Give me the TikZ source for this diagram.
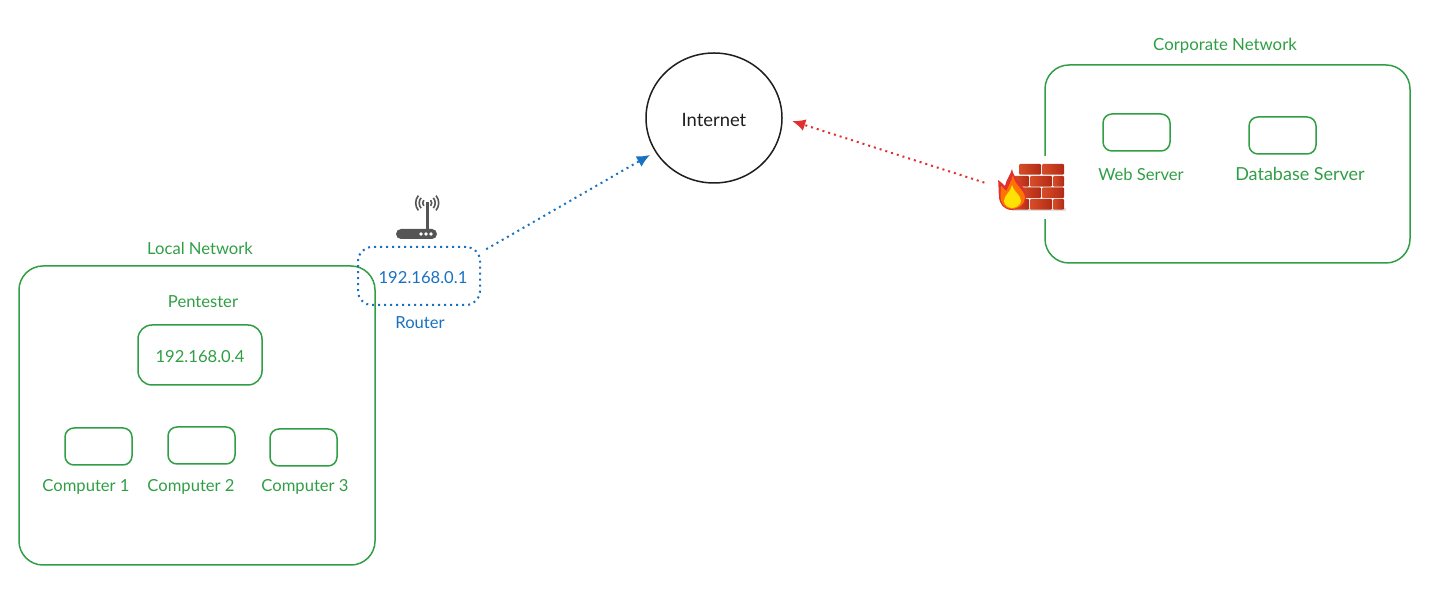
\documentclass[tikz,border=0pt]{standalone}
\usepackage{fontspec}
\setmainfont{Lato}
\usetikzlibrary{arrows.meta,positioning,shapes.geometric}
\definecolor{netgreen}{RGB}{47,158,68}
\definecolor{netblue}{RGB}{25,113,194}
\definecolor{netred}{RGB}{224,49,49}
\definecolor{inkblack}{RGB}{30,30,30}
\definecolor{icongray}{RGB}{85,85,85}
\definecolor{brickdark}{RGB}{178,42,22}
\definecolor{bricklight}{RGB}{214,78,40}
\tikzset{
  lbl/.style={inner sep=0pt,font=\fontsize{8.3}{10}\selectfont},
  greenlbl/.style={lbl,netgreen},
  netbox/.style={draw=netgreen,line width=0.75pt,rounded corners=12pt,inner sep=0pt},
  hostbox/.style={draw=netgreen,line width=0.75pt,rounded corners=4.5pt,minimum width=33.5pt,minimum height=18.5pt,inner sep=0pt},
  brick/.style={left color=bricklight,right color=brickdark,draw=none,rounded corners=0.5pt},
}
\begin{document}
\begin{tikzpicture}[x=0.5pt,y=-0.5pt]
    \useasboundingbox (0,0) rectangle (1435,592);
    % networks
    \node[netbox,minimum width=178pt,minimum height=149.5pt] (localnet) at (197,415.5) {};
    \node[netbox,minimum width=182.5pt,minimum height=99pt] (corpnet) at (1227.5,164) {};
    \node[greenlbl] (localtitle) at (200,248) {Local Network};
    \node[greenlbl,font=\fontsize{8.4}{10}\selectfont] (corptitle) at (1225,45.5) {Corporate Network};
    % local hosts
    \node[greenlbl] (pentitle) at (203,302) {Pentester};
    \node[hostbox,minimum width=62pt,minimum height=30pt,rounded corners=7pt] (pentester) at (200,355) {};
    \node[greenlbl] (penip) at (200,356.5) {192.168.0.4};
    \foreach \nm/\x/\y/\lx in {1/98.5/446.5/86,2/201.5/445.5/191,3/303.5/447.5/305}{
      \node[hostbox] (comp\nm) at (\x,\y) {};
      \node[greenlbl] (complbl\nm) at (\lx,486.5) {Computer \nm};
    }
    % corporate hosts
    \node[hostbox] (web) at (1136.5,132.5) {};
    \node[greenlbl] (weblbl) at (1141,174) {Web Server};
    \node[hostbox] (db) at (1282.5,135.5) {};
    \node[greenlbl,font=\fontsize{9}{10}\selectfont] (dblbl) at (1300,174) {Database Server};
    % internet and router
    \node[draw=inkblack,line width=0.75pt,ellipse,minimum width=68pt,minimum height=65pt,inner sep=0pt] (internet) at (714,118) {};
    \node[lbl,inkblack,font=\fontsize{9.2}{10}\selectfont] (inetlbl) at (714,120) {Internet};
    \node[draw=netblue,line width=1pt,dotted,rounded corners=7pt,minimum width=61pt,minimum height=29pt,inner sep=0pt] (router) at (419,276) {};
    \node[lbl,netblue] (routerip) at (423,278) {192.168.0.1};
    \node[lbl,netblue] (routerlbl) at (420,323) {Router};
    % router icon
    \fill[icongray,rounded corners=2.5pt] (396,229) rectangle (437,239);
    \fill[icongray] (425.8,202) rectangle (428.6,229);
    \foreach \x in {421,426,431}{
      \fill[white] (\x,234) circle (1.8);
    }
    \foreach \r in {4.5,8,11.5}{
      \draw[icongray,line width=0.8pt] (427.2,203)+(140:\r) arc (140:220:\r);
      \draw[icongray,line width=0.8pt] (427.2,203)+(40:\r) arc (40:-40:\r);
    }
    % firewall icon
    \node[fill=white,minimum width=37pt,minimum height=31.5pt,inner sep=0pt] (firewall) at (1037,187.5) {};
    \fill[black!12] (1012,208) rectangle (1066,211);
    \foreach \y/\x/\w in {164/1019/22,164/1042/22,176/1014/15,176/1030/22,176/1053/11,187.5/1019/22,187.5/1042/22,199/1014/15,199/1030/22,199/1053/11}{
      \shade[brick] (\x,\y) rectangle (\x+\w,\y+10.6);
    }
    \fill[netred] (1012,169) .. controls (1013,179) and (1027,186) .. (1026,198) .. controls (1025,206) and (1019,210) .. (1012,210) .. controls (1004,210) and (999,204) .. (999,196) .. controls (998,190) and (999,185) .. (998,180) .. controls (1001,182) and (1003,184) .. (1005,186) .. controls (1006,180) and (1010,176) .. (1012,169) -- cycle;
    \fill[orange!90!red] (1013,175) .. controls (1014,185) and (1025,190) .. (1025,198) .. controls (1024,205) and (1018,209) .. (1012,209) .. controls (1005,209) and (1000.5,203) .. (1000.5,197) .. controls (1000.5,193) and (1001,190) .. (1001,186) .. controls (1003,188) and (1005,190) .. (1006.5,191) .. controls (1008,186) and (1012,181) .. (1013,175) -- cycle;
    \fill[yellow!85!orange] (1012,185) .. controls (1013,191) and (1021,195) .. (1021,201) .. controls (1021,205) and (1016,208) .. (1012,208) .. controls (1008,208) and (1004,205) .. (1004,201) .. controls (1004,195) and (1011,192) .. (1012,185) -- cycle;
    % links
    \draw[netblue,line width=1pt,dotted,-{Latex[length=6.5pt,width=6pt]},shorten <=3pt,shorten >=3pt] (router.21) -- (internet.210);
    \draw[netred,line width=1pt,dotted,-{Latex[length=6.5pt,width=6pt]},shorten <=8pt,shorten >=5pt] (firewall.west) -- (internet.east);
  \end{tikzpicture}
\end{document}
